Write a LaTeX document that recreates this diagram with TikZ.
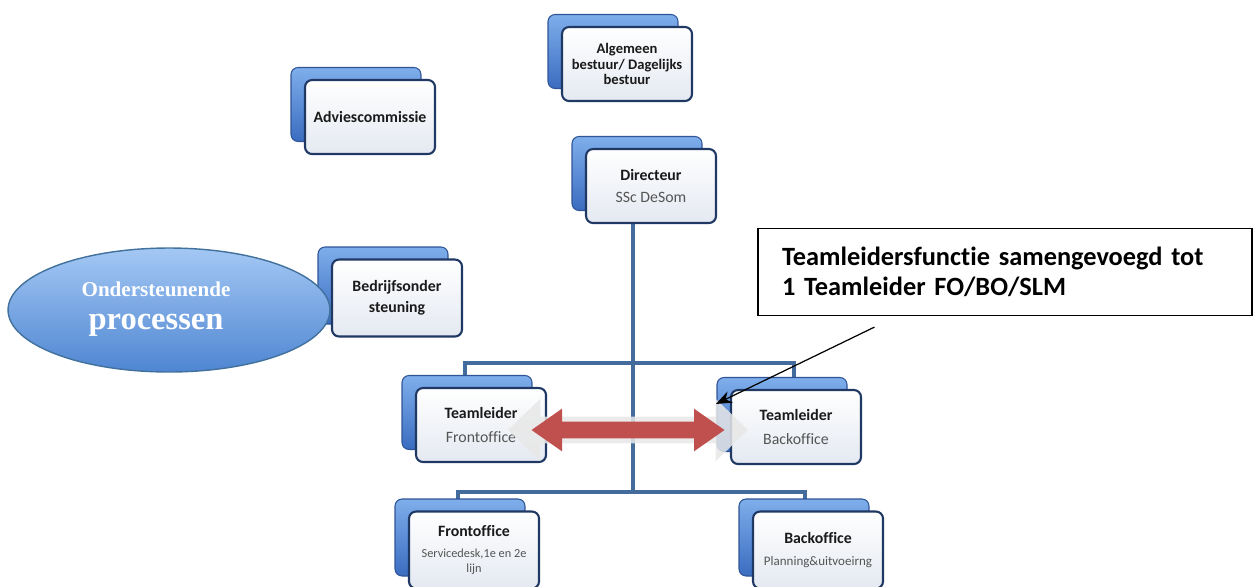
\documentclass[tikz,border=0pt]{standalone}
\usepackage{fontspec}
\setmainfont{Carlito}[Ligatures=NoCommon]
\newfontfamily\ovalfont{Liberation Serif}
\usetikzlibrary{calc,shadows,shapes.geometric,shapes.arrows,arrows.meta,backgrounds}

\definecolor{boxedge}{HTML}{1F3864}
\definecolor{boxfill}{HTML}{E4E9F1}
\definecolor{backtop}{HTML}{7FAEEB}
\definecolor{backbot}{HTML}{3A6CC0}
\definecolor{backedge}{HTML}{2F5597}
\definecolor{orgline}{HTML}{436B9B}
\definecolor{inkdark}{HTML}{1A1A1A}
\definecolor{inkgray}{HTML}{555555}
\definecolor{ovaltop}{HTML}{A4C8F4}
\definecolor{ovalbot}{HTML}{4F86D2}
\definecolor{ovaledge}{HTML}{41719C}
\definecolor{mergered}{HTML}{C0504D}

\tikzset{
  orgbox/.style={rectangle, rounded corners=4pt, draw=boxedge, line width=1.2pt,
    top color=white, bottom color=boxfill, minimum width=2.6cm, minimum height=1.48cm,
    align=center, text=inkdark, font=\fontsize{9}{11}\selectfont\bfseries,
    general shadow={shadow xshift=-0.28cm, shadow yshift=0.25cm,
      top color=backtop, bottom color=backbot, draw=backedge, line width=0.6pt}},
  trunk/.style={draw=orgline, line width=2.4pt},
  mergearrow/.style={double arrow, draw=none, inner sep=0pt}
}

\begin{document}
\begin{tikzpicture}[x=0.02cm, y=-0.02cm]

\useasboundingbox (0,0) rectangle (1254,586);

\node[orgbox, font=\fontsize{8.3}{8.6}\selectfont\bfseries] (ab) at (627,64) {Algemeen\\bestuur/ Dagelijks\\bestuur};

\node[orgbox] (adv) at (370,117) {Adviescommissie};

\node[orgbox] (dir) at (651,186) {Directeur\\[2pt]{\mdseries\color{inkgray}SSc DeSom}};

\node[orgbox, minimum height=1.54cm] (bos) at (397,298) {Bedrijfsonder\\[1pt]steuning};

\node[orgbox] (tlfo) at (481,425) {Teamleider\\[3pt]{\mdseries\color{inkgray}Frontoffice}};

\node[orgbox] (tlbo) at ($(tlfo) + (315,2)$) {Teamleider\\[3pt]{\mdseries\color{inkgray}Backoffice}};

\node[orgbox, minimum height=1.54cm] (fo) at (474,550) {Frontoffice\\[1pt]{\mdseries\color{inkgray}\fontsize{7}{8}\selectfont Servicedesk,1e en 2e}\\[-2pt]{\mdseries\color{inkgray}\fontsize{7}{8}\selectfont lijn}};

\node[orgbox, minimum height=1.54cm] (bo) at ($(fo) + (344,0)$) {Backoffice\\[2pt]{\mdseries\color{inkgray}\fontsize{7.4}{8}\selectfont Planning\&uitvoeirng}};

\node[ellipse, draw=ovaledge, line width=0.8pt, top color=ovaltop, bottom color=ovalbot,
  minimum width=6.44cm, minimum height=2.48cm] (oval) at (169,310) {};

\node[align=center, text=white, font=\ovalfont\bfseries] (ovaltext) at ($(oval) + (-13,-1)$)
  {{\fontsize{12}{13}\selectfont Ondersteunende}\\[7pt]{\fontsize{18.5}{19}\selectfont processen}};

\node[draw=black, line width=0.7pt, minimum width=9.88cm, minimum height=1.74cm,
  inner xsep=0.48cm, text width=8.92cm, align=left,
  font=\fontsize{15}{17}\selectfont\bfseries] (note) at (1005,272)
  {Teamleidersfunctie samengevoegd tot\\1 Teamleider FO/BO/SLM};

\coordinate (jt) at (633,363);
\coordinate (jb) at (633,492);
\coordinate (jtl) at (465,363);
\coordinate (jtr) at (794,363);
\coordinate (jbl) at (458,492);
\coordinate (jbr) at (805,492);

\begin{scope}[on background layer]
\draw[trunk] (dir.south -| jt) -- (jb);
\draw[trunk] (tlfo.north -| jtl) -- (jtl) -- (jtr) -- (tlbo.north -| jtr);
\draw[trunk] (fo.north -| jbl) -- (jbl) -- (jbr) -- (bo.north -| jbr);
\end{scope}

\node[mergearrow, fill=black!9, opacity=0.85, minimum height=4.8cm, minimum width=1.24cm,
  inner ysep=0.26cm, double arrow head extend=0.36cm, double arrow tip angle=88] (mergeglow) at (628,430) {};

\node[mergearrow, fill=mergered, minimum height=3.86cm, minimum width=0.84cm,
  inner ysep=0.16cm, double arrow head extend=0.26cm, double arrow tip angle=70] (merge) at (628,430) {};

\coordinate (notefoot) at ($(note.south west) + (117,11)$);
\draw[-{Stealth[length=9pt,width=7pt]}, line width=0.7pt] (notefoot) -- ($(tlbo.north west) + (-14,15)$);

\end{tikzpicture}
\end{document}
